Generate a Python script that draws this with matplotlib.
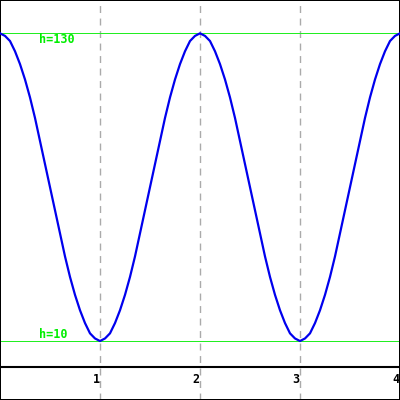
import matplotlib
matplotlib.use("Agg")
from matplotlib import pyplot as plt

# readings, every 0.05 along x
x_vals = [i * 0.05 for i in range(81)]
h_vals = [130, 129, 127, 123, 118, 112, 105, 97, 88, 79,
          70, 61, 52, 43, 35, 28, 22, 17, 13, 11,
          10, 11, 13, 17, 22, 28, 35, 43, 52, 61,
          70, 79, 88, 97, 105, 112, 118, 123, 127, 129,
          130, 129, 127, 123, 118, 112, 105, 97, 88, 79,
          70, 61, 52, 43, 35, 28, 22, 17, 13, 11,
          10, 11, 13, 17, 22, 28, 35, 43, 52, 61,
          70, 79, 88, 97, 105, 112, 118, 123, 127, 129,
          130]
x_ticks = [1, 2, 3, 4]
levels = [130, 10]
level_labels = ["h=130", "h=10"]

fig = plt.figure(figsize=(4, 4), dpi=100)
ax = fig.add_axes([0, 0, 1, 1])
ax.set_xlim(0, 4)
ax.set_ylim(-13, 143)
ax.set_xticks([])
ax.set_yticks([])
for side in ["left", "bottom", "top", "right"]:
    ax.spines[side].set_linewidth(1.44)
    ax.spines[side].set_color("black")

for t in x_ticks:
    ax.axvline(t, color="#aaaaaa", lw=1, ls=(0, (5, 4)), zorder=1)
    ax.text(t - 0.04, -2.5, str(t), ha="center", va="top", fontsize=8.5,
            fontweight="bold", family="DejaVu Sans Mono", color="black")
ax.axhline(0, color="black", lw=1.5, zorder=2)

for lv in levels:
    ax.axhline(lv, color="#22ee22", lw=0.72, antialiased=False, zorder=2)
ax.text(0.39, 127.5, level_labels[0], ha="left", va="center", fontsize=8.5,
        fontweight="bold", family="DejaVu Sans Mono", color="#00ee00")
ax.text(0.39, 12.5, level_labels[1], ha="left", va="center", fontsize=8.5,
        fontweight="bold", family="DejaVu Sans Mono", color="#00ee00")

ax.plot(x_vals, h_vals, color="#0000ee", lw=1.6, zorder=3)

fig.savefig("out.png", dpi=100)
